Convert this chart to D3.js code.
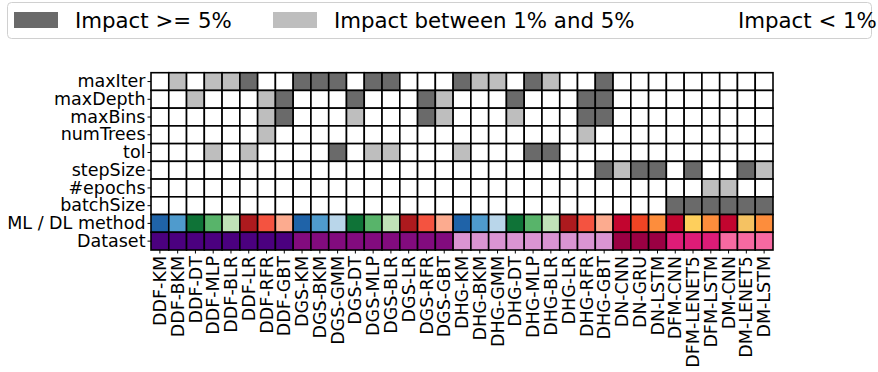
<!DOCTYPE html>
<html>
<head>
<meta charset="utf-8">
<script src="https://cdn.jsdelivr.net/npm/d3@7"></script>
<style>
body { margin: 0; background: #fff; }
text { font-family: "DejaVu Sans", sans-serif; fill: #000; }
</style>
</head>
<body>
<svg width="878" height="372"></svg>
<script>
// columns (dataset-method)
var columns = ["DDF-KM","DDF-BKM","DDF-DT","DDF-MLP","DDF-BLR","DDF-LR","DDF-RFR","DDF-GBT",
    "DGS-KM","DGS-BKM","DGS-GMM","DGS-DT","DGS-MLP","DGS-BLR","DGS-LR","DGS-RFR","DGS-GBT",
    "DHG-KM","DHG-BKM","DHG-GMM","DHG-DT","DHG-MLP","DHG-BLR","DHG-LR","DHG-RFR","DHG-GBT",
    "DN-CNN","DN-GRU","DN-LSTM","DFM-CNN","DFM-LENET5","DFM-LSTM","DM-CNN","DM-LENET5","DM-LSTM"];

var params = ["maxIter","maxDepth","maxBins","numTrees","tol","stepSize","#epochs","batchSize"];
var rows = params.concat(["ML / DL method","Dataset"]);

// impact level: 0 = < 1%, 1 = 1%..5%, 2 = >= 5%
var maxIter   = [0,1,0,1,1,2,0,0, 2,2,2,0,2,2,0,0,0, 2,1,1,0,2,1,0,0,2, 0,0,0, 0,0,0, 0,0,0];
var maxDepth  = [0,0,1,0,0,0,1,2, 0,0,0,2,0,0,0,2,1, 0,0,0,2,0,0,0,2,2, 0,0,0, 0,0,0, 0,0,0];
var maxBins   = [0,0,0,0,0,0,1,2, 0,0,0,1,0,0,0,2,1, 0,0,0,1,0,0,0,2,2, 0,0,0, 0,0,0, 0,0,0];
var numTrees  = [0,0,0,0,0,0,1,0, 0,0,0,0,0,0,0,0,0, 0,0,0,0,0,0,0,1,0, 0,0,0, 0,0,0, 0,0,0];
var tol       = [0,0,0,1,0,1,0,0, 0,0,2,0,1,1,0,0,0, 1,0,0,0,2,2,0,0,0, 0,0,0, 0,0,0, 0,0,0];
var stepSize  = [0,0,0,0,0,0,0,0, 0,0,0,0,0,0,0,0,0, 0,0,0,0,0,0,0,0,2, 1,2,2, 0,2,0, 0,2,1];
var epochs    = [0,0,0,0,0,0,0,0, 0,0,0,0,0,0,0,0,0, 0,0,0,0,0,0,0,0,0, 0,0,0, 0,0,1, 1,0,0];
var batchSize = [0,0,0,0,0,0,0,0, 0,0,0,0,0,0,0,0,0, 0,0,0,0,0,0,0,0,0, 0,0,0, 2,2,2, 2,2,2];
var impact = [maxIter, maxDepth, maxBins, numTrees, tol, stepSize, epochs, batchSize];

var legendLabels = ["Impact >= 5%", "Impact between 1% and 5%", "Impact < 1%"];

var levelColor = ["#ffffff", "#bebebe", "#6a6a6a"];
var methodColor = {
    "KM": "#1f63a8", "BKM": "#4f9bcd", "GMM": "#b9d6ea",
    "DT": "#0f7337", "MLP": "#58b46a", "BLR": "#c0e2b8",
    "LR": "#ad1a1e", "RFR": "#f45340", "GBT": "#fcab8f",
    "DN-CNN": "#c2052f", "DN-GRU": "#ef4424", "DN-LSTM": "#fd8d3c",
    "DFM-CNN": "#c2052f", "DFM-LENET5": "#fecf5c", "DFM-LSTM": "#fd8d3c",
    "DM-CNN": "#c2052f", "DM-LENET5": "#f5c262", "DM-LSTM": "#fd8d3c"
};
var datasetColor = d3.scaleOrdinal()
    .domain(["DDF","DGS","DHG","DN","DFM","DM"])
    .range(["#4b007f","#820b7e","#da94d2","#9a0043","#dd1c77","#f769a1"]);

var svg = d3.select("svg"),
    x0 = 151, x1 = 773, y0 = 72.7, y1 = 250;

var x = d3.scaleBand().domain(columns).range([x0, x1]),
    y = d3.scaleBand().domain(rows).range([y0, y1]);

var cells = [];
columns.forEach(function(c, i){
    var ds = c.split("-")[0], m = c.slice(ds.length + 1);
    params.forEach(function(p, j){
        cells.push({col: c, row: p, fill: levelColor[impact[j][i]]});
    });
    cells.push({col: c, row: "ML / DL method", fill: methodColor[m] || methodColor[c]});
    cells.push({col: c, row: "Dataset", fill: datasetColor(ds)});
});

svg.append("g").selectAll("rect")
    .data(cells)
    .enter().append("rect")
    .attr("x", d => x(d.col))
    .attr("y", d => y(d.row))
    .attr("width", x.bandwidth())
    .attr("height", y.bandwidth())
    .attr("fill", d => d.fill)
    .attr("stroke", "#000")
    .attr("stroke-width", 1.6);

// axes
var yAxis = svg.append("g")
    .attr("transform", `translate(${x0},0)`)
    .call(d3.axisLeft(y).tickSize(3.5).tickPadding(2));
yAxis.select(".domain").remove();
yAxis.selectAll("text").style("font-size", "17.5px").attr("font-family", "DejaVu Sans");

var xAxis = svg.append("g")
    .attr("transform", `translate(0,${y1})`)
    .call(d3.axisBottom(x).tickSize(3.5).tickPadding(2));
xAxis.select(".domain").remove();
xAxis.selectAll("text")
    .style("font-size", "17.5px")
    .attr("font-family", "DejaVu Sans")
    .attr("transform", "rotate(-90)")
    .attr("text-anchor", "end")
    .attr("x", -6)
    .attr("y", 0)
    .attr("dy", "0.35em");

// legend
var lg = svg.append("g");
lg.append("rect")
    .attr("x", 7.5).attr("y", 2.5)
    .attr("width", 864).attr("height", 36)
    .attr("rx", 4)
    .attr("fill", "#fff")
    .attr("stroke", "#d0d0d0");
var lx = [14, 273, 677];
legendLabels.forEach(function(t, i){
    lg.append("rect")
        .attr("x", lx[i]).attr("y", 12)
        .attr("width", 44).attr("height", 16)
        .attr("fill", levelColor[2 - i]);
    lg.append("text")
        .attr("x", lx[i] + 61).attr("y", 27.5)
        .style("font-size", "21.3px")
        .text(t);
});
</script>
</body>
</html>
